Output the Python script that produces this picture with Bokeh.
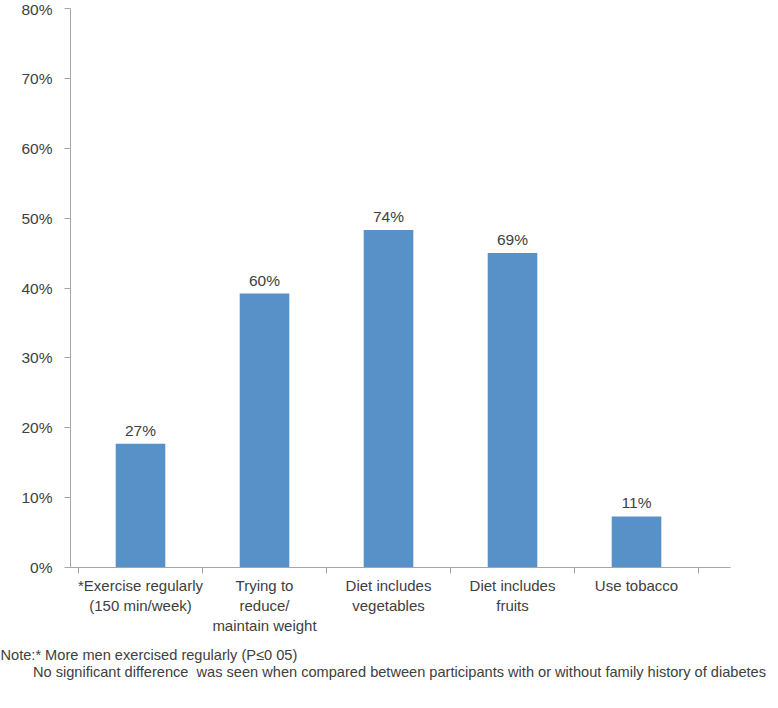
from bokeh.plotting import figure
from bokeh.models import FixedTicker, Title, ColumnDataSource, Range1d
from bokeh.core.properties import value
from bokeh.embed import file_html
from bokeh.resources import INLINE

# ---- data ----
categories = [
    "*Exercise regularly\n(150 min/week)",
    "Trying to\nreduce/\nmaintain weight",
    "Diet includes\nvegetables",
    "Diet includes\nfruits",
    "Use tobacco",
]
bar_values = [17.7, 39.2, 48.3, 45.0, 7.3]          # height
bar_labels = ["27%", "60%", "74%", "69%", "11%"]     # printed value labels
y_ticks = [0, 10, 20, 30, 40, 50, 60, 70, 80]
y_tick_labels = ["0%", "10%", "20%", "30%", "40%", "50%", "60%", "70%", "80%"]
note_line1 = "Note:* More men exercised regularly (P\u22640 05)"
note_line2 = ("No significant difference\u00a0 was seen when compared between "
              "participants with or without family history of diabetes")

FONT = "Liberation Sans"
TXT = "#404040"
AX = "#a6a6a6"
BAR = "#5791c7"

xs = [i + 1 for i in range(len(categories))]
src = ColumnDataSource(dict(x=xs, top=bar_values, lab=bar_labels))

p = figure(width=778, height=708, output_backend="svg", toolbar_location=None,
           x_range=Range1d(0.4355, 5.758), y_range=Range1d(0, 80),
           min_border_left=70, min_border_right=48, min_border_top=8,
           min_border_bottom=141)
p.outline_line_color = None
p.xgrid.visible = False
p.ygrid.visible = False

p.vbar(x="x", top="top", bottom=0, width=0.4, source=src,
       fill_color=BAR, line_color=None)
p.text(x="x", y="top", text="lab", source=src, y_offset=-5,
       text_align="center", text_baseline="bottom",
       text_font=value(FONT), text_font_size="15.5px", text_color=TXT)

# y axis
p.yaxis.ticker = FixedTicker(ticks=y_ticks)
p.yaxis.major_label_overrides = {t: l for t, l in zip(y_ticks, y_tick_labels)}
p.yaxis.axis_line_color = AX
p.yaxis.major_tick_line_color = AX
p.yaxis.major_tick_out = 6
p.yaxis.major_tick_in = 0
p.yaxis.minor_tick_line_color = None
p.yaxis.major_label_standoff = 12
p.yaxis.major_label_text_font = FONT
p.yaxis.major_label_text_font_size = "15.5px"
p.yaxis.major_label_text_color = TXT

# x axis
bounds = [x - 0.5 for x in xs] + [xs[-1] + 0.5]
p.xaxis.ticker = FixedTicker(ticks=xs, minor_ticks=bounds)
p.xaxis.major_label_overrides = {x: c for x, c in zip(xs, categories)}
p.xaxis.axis_line_color = AX
p.xaxis.major_tick_line_color = None
p.xaxis.major_tick_out = 0
p.xaxis.major_tick_in = 0
p.xaxis.minor_tick_line_color = AX
p.xaxis.minor_tick_out = 6
p.xaxis.minor_tick_in = 0
p.xaxis.major_label_standoff = 3
p.xaxis.major_label_text_font = FONT
p.xaxis.major_label_text_font_size = "15px"
p.xaxis.major_label_text_line_height = 1.2
p.xaxis.major_label_text_color = TXT

# notes (below the axis): second line indented with non-breaking spaces
indent = "\u00a0" * 8
note = Title(text=note_line1 + "\n" + indent + note_line2, align="left",
             offset=-70, standoff=14, text_font=FONT, text_font_size="14.6px",
             text_font_style="normal", text_color=TXT, text_line_height=1.1)
p.add_layout(note, "below")

open("out.html", "w").write(file_html(p, INLINE))
